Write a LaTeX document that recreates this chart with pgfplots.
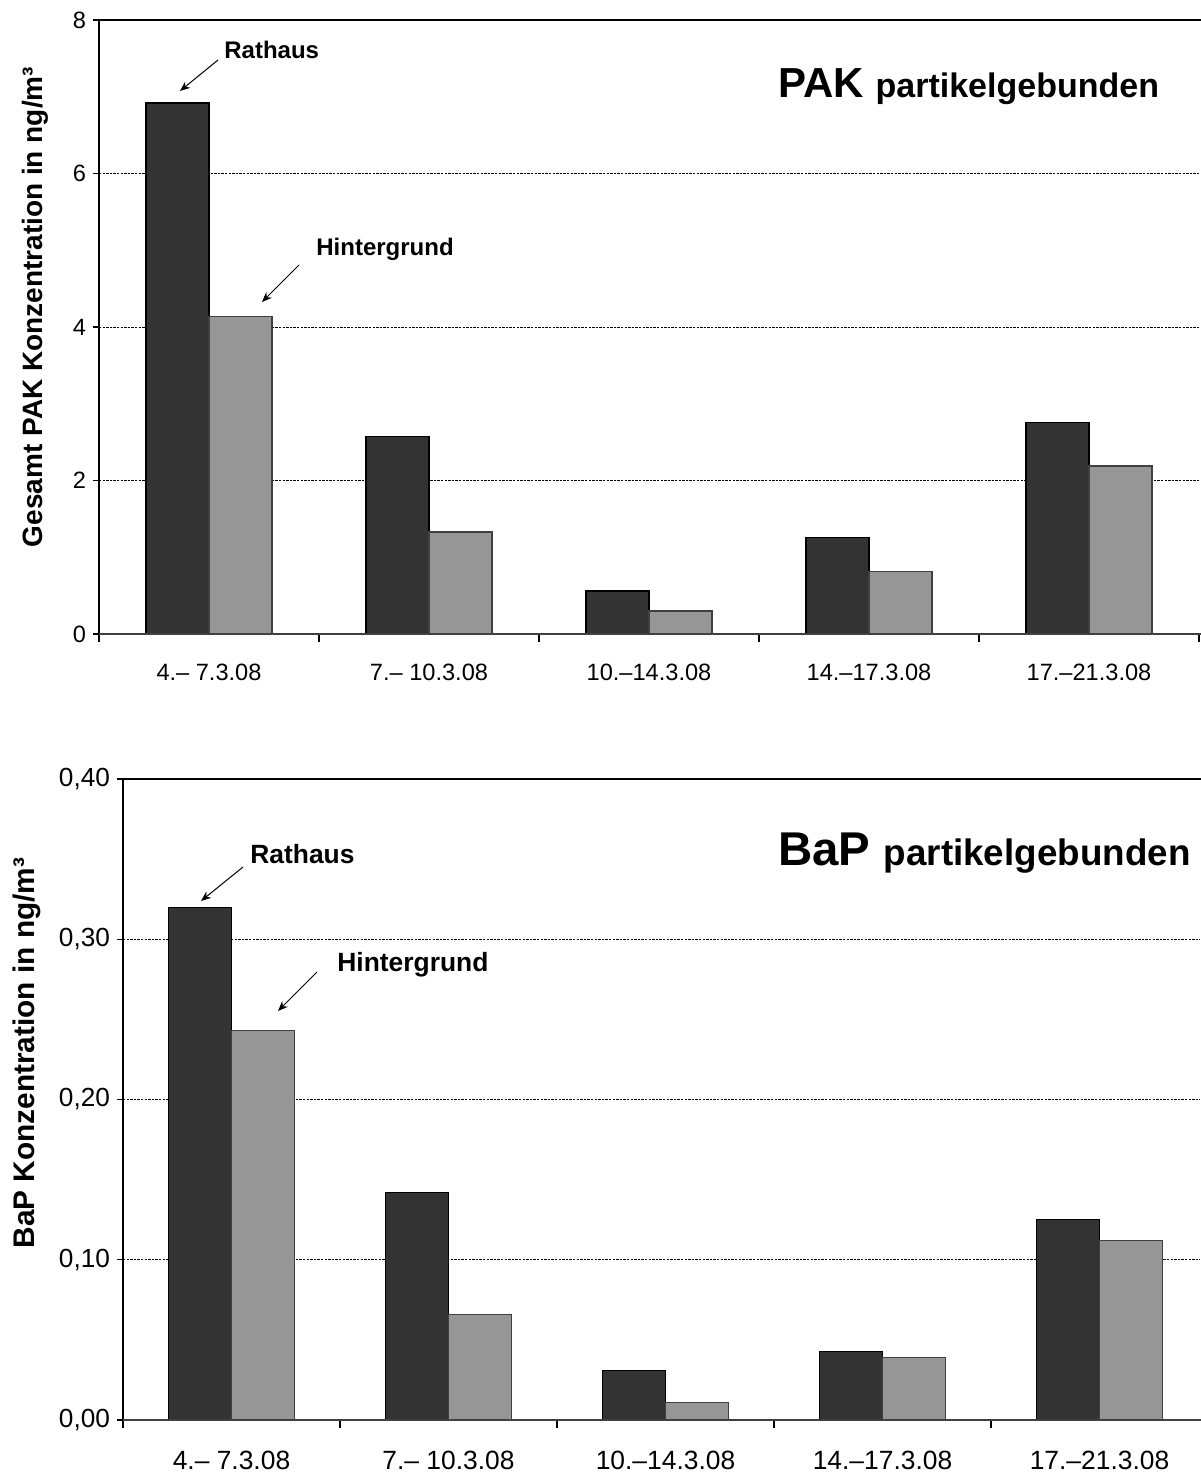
\documentclass[border=0pt]{standalone}
\usepackage{fontspec}
\setmainfont{Liberation Sans}
\usepackage{pgfplots}
\pgfplotsset{compat=1.18}
\usetikzlibrary{arrows.meta}
\definecolor{dark}{HTML}{333333}
\definecolor{light}{HTML}{969696}
\definecolor{axisgray}{HTML}{404040}

\pgfplotsset{mybars/.style={
  scale only axis, ybar, xmin=-0.5,
  /pgf/number format/assume math mode=true,
  xtick={0,1,2,3,4},
  xticklabels={{4.– 7.3.08},{7.– 10.3.08},{10.–14.3.08},{14.–17.3.08},{17.–21.3.08}},
  minor xtick={-0.5,0.5,1.5,2.5,3.5,4.5},
  major x tick style={draw=none},
  tick align=outside, tick pos=left,
  major tick length=3pt, minor tick length=4pt,
  tick style={black, line width=0.6pt},
  axis line style={draw=none},
  ymajorgrids, grid style={dash pattern=on 1.2pt off 0.6pt, black, line width=0.4pt},
  xticklabel style={anchor=center},
  yticklabel style={anchor=east},
  every axis y label/.style={rotate=90, anchor=center},
  clip=false,
}}

\begin{document}
\begin{tikzpicture}
\path[use as bounding box] (0,0) rectangle (600pt,-736pt);

% ---------- top chart ----------
\begin{axis}[mybars,
  at={(49.5pt,-317pt)}, anchor=south west,
  width=550pt, height=307pt,
  xmax=4.5, ymin=0, ymax=8, ytick={0,2,4,6,8},
  yticklabels={0,2,4,6,8},
  bar width=0.286,
  xticklabel style={font=\fontsize{11.8}{13}\selectfont, yshift=-16pt},
  yticklabel style={font=\fontsize{11.8}{13}\selectfont},
  ylabel={\fontsize{14}{16}\selectfont\bfseries Gesamt PAK Konzentration in ng/m³},
  ylabel style={at={(axis description cs:-0.0582,0.5326)}},
]
\addplot[fill=dark, draw=black, line width=0.6pt, bar shift=-0.143]
  coordinates {(0,6.92) (1,2.57) (2,0.56) (3,1.26) (4,2.76)};
\addplot[fill=light, draw=axisgray, line width=0.6pt, bar shift=0.143]
  coordinates {(0,4.14) (1,1.33) (2,0.30) (3,0.81) (4,2.19)};
\draw[black, line width=0.8pt] (rel axis cs:0,0) -- (rel axis cs:0,1);
\draw[black, line width=0.6pt] (rel axis cs:0,1) -- (rel axis cs:1.01,1);
\draw[axisgray, line width=0.8pt] (rel axis cs:0,0) -- (rel axis cs:1.01,0);
\end{axis}

% ---------- bottom chart ----------
\begin{axis}[mybars,
  at={(61.5pt,-710pt)}, anchor=south west,
  width=538.5pt, height=320.5pt,
  xmax=4.463, ymin=0, ymax=0.4, ytick={0,0.1,0.2,0.3,0.4},
  yticklabels={{0,00},{0,10},{0,20},{0,30},{0,40}},
  bar width=0.29,
  xticklabel style={font=\fontsize{13.2}{15}\selectfont, yshift=-17pt},
  yticklabel style={font=\fontsize{13.1}{15}\selectfont},
  ylabel={\fontsize{14.9}{17}\selectfont\bfseries BaP Konzentration in ng/m³},
  ylabel style={at={(axis description cs:-0.089,0.5725)}},
]
\addplot[fill=dark, draw=black, line width=0.6pt, bar shift=-0.145]
  coordinates {(0,0.320) (1,0.142) (2,0.031) (3,0.043) (4,0.125)};
\addplot[fill=light, draw=axisgray, line width=0.6pt, bar shift=0.145]
  coordinates {(0,0.243) (1,0.066) (2,0.011) (3,0.039) (4,0.112)};
\draw[black, line width=0.8pt] (rel axis cs:0,0) -- (rel axis cs:0,1);
\draw[black, line width=0.6pt] (rel axis cs:0,1) -- (rel axis cs:1.01,1);
\draw[axisgray, line width=0.8pt] (rel axis cs:0,0) -- (rel axis cs:1.01,0);
\end{axis}

% ---------- titles and annotations (pixel coordinates) ----------
\begin{scope}[x=0.5pt, y=-0.5pt]
\node[anchor=base west, inner sep=0pt] at (778,97)
  {\bfseries\fontsize{21}{24}\selectfont PAK \fontsize{17}{19}\selectfont partikelgebunden};
\node[anchor=base west, inner sep=0pt] at (778,865)
  {\bfseries\fontsize{23.7}{26}\selectfont BaP \fontsize{18.4}{20}\selectfont partikelgebunden};

\node[anchor=base west, inner sep=0pt] at (224,58) {\bfseries\fontsize{12}{14}\selectfont Rathaus};
\node[anchor=base west, inner sep=0pt] at (316,255) {\bfseries\fontsize{12}{14}\selectfont Hintergrund};
\draw[-{Stealth[length=5pt,width=4pt]}, line width=0.5pt] (218,60) -- (180,91);
\draw[-{Stealth[length=5pt,width=4pt]}, line width=0.5pt] (299,265) -- (262,302);

\node[anchor=base west, inner sep=0pt] at (250,863) {\bfseries\fontsize{13.2}{15}\selectfont Rathaus};
\node[anchor=base west, inner sep=0pt] at (337,971) {\bfseries\fontsize{13.2}{15}\selectfont Hintergrund};
\draw[-{Stealth[length=5pt,width=4pt]}, line width=0.5pt] (243,867) -- (201,901);
\draw[-{Stealth[length=5pt,width=4pt]}, line width=0.5pt] (317,972) -- (278,1011);
\end{scope}
\end{tikzpicture}
\end{document}
